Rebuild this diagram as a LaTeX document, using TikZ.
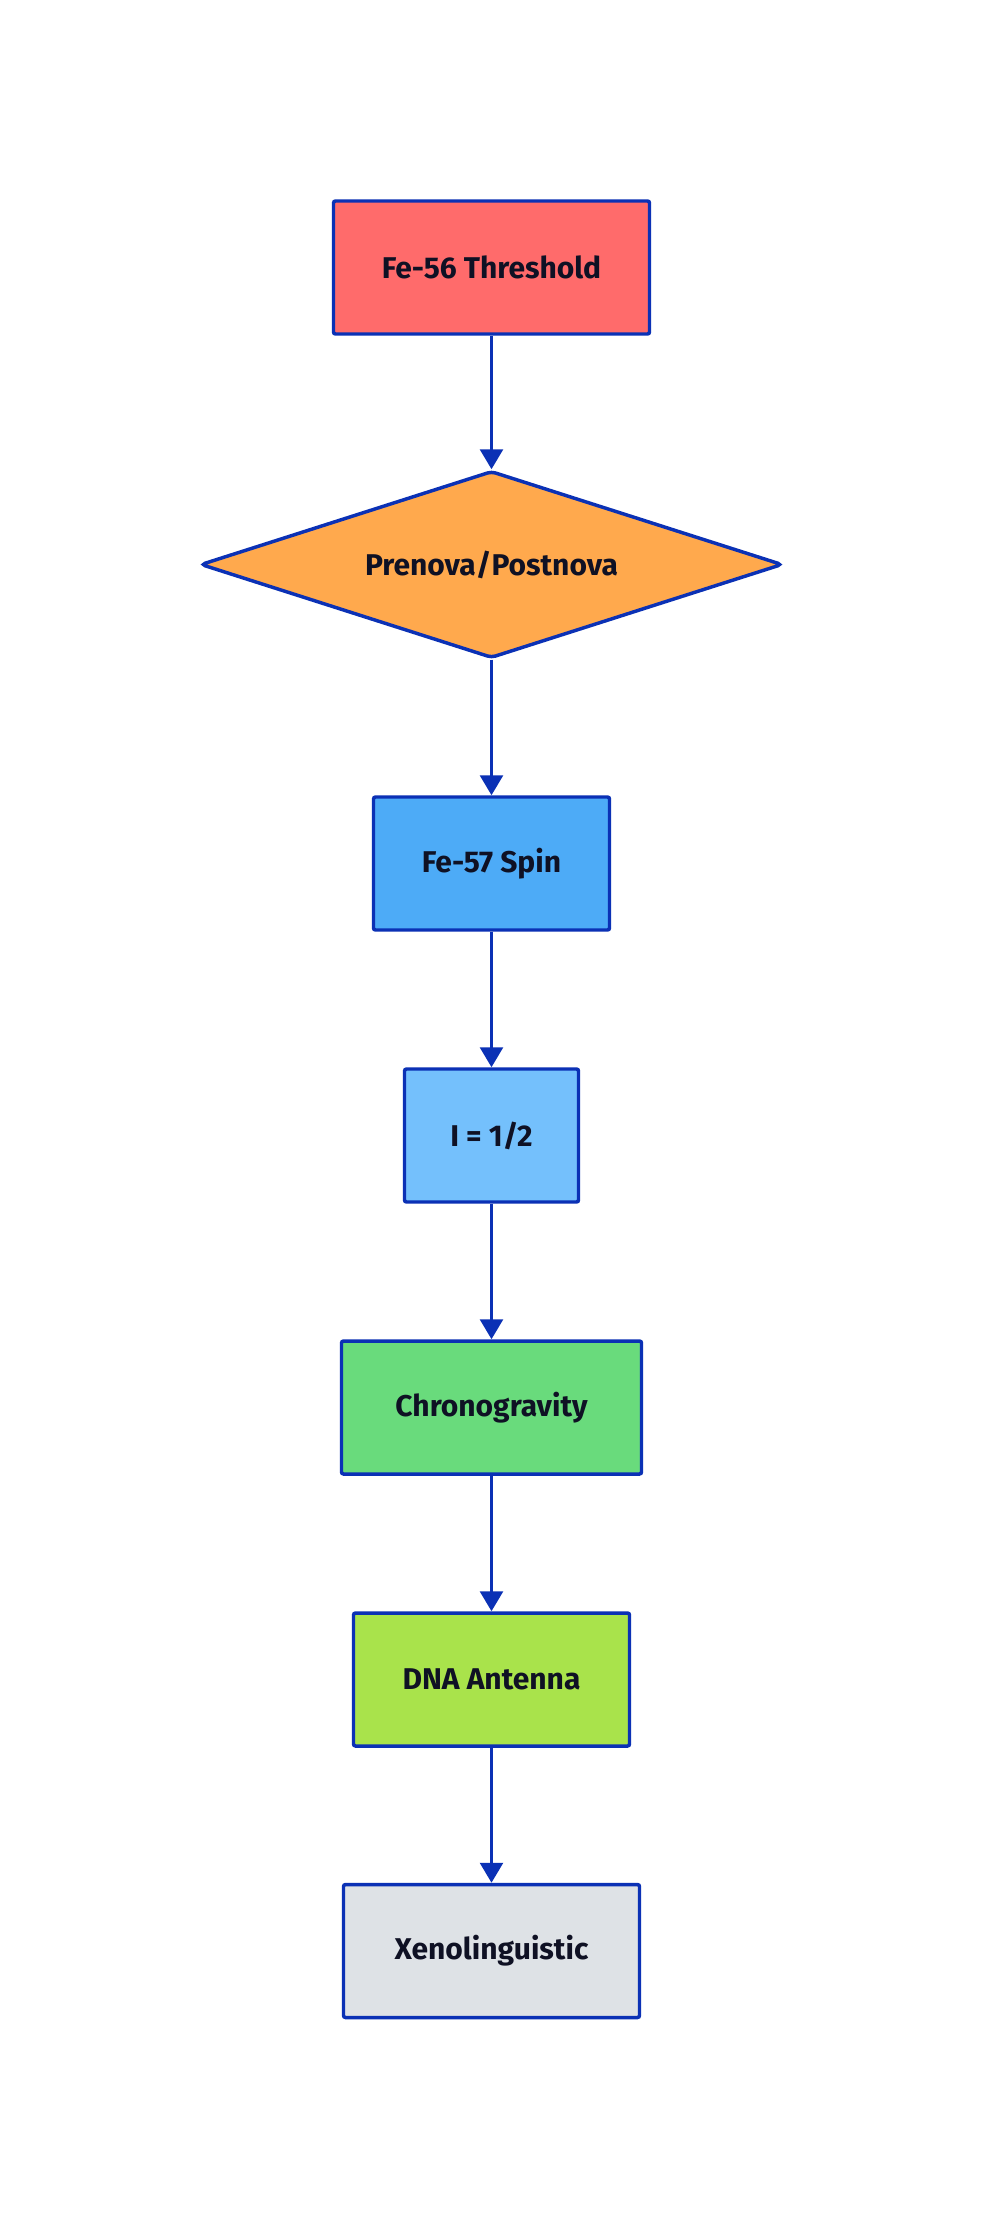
\documentclass[tikz,border=0pt]{standalone}
\usepackage{fontspec}
\setmainfont{Fira Sans}
\usetikzlibrary{shapes.geometric,arrows.meta}
\definecolor{edgeblue}{HTML}{0B31B5}
\definecolor{txt}{HTML}{0F1124}
\definecolor{cred}{HTML}{FF6B6B}
\definecolor{corange}{HTML}{FFA94D}
\definecolor{cblue}{HTML}{4DABF7}
\definecolor{clblue}{HTML}{74C0FC}
\definecolor{cgreen}{HTML}{69DB7C}
\definecolor{clime}{HTML}{A9E34B}
\definecolor{cgray}{HTML}{DEE2E6}
\tikzset{
  lbl/.style={font=\fontsize{22.5}{26}\selectfont\bfseries, text=txt},
  stepbox/.style={lbl, draw=edgeblue, line width=2.6pt, rounded corners=1.5pt, inner sep=0pt,
    minimum height=133*0.75pt},
  decide/.style={lbl, diamond, aspect=3.11, draw=edgeblue, line width=2.6pt, rounded corners=3pt, inner sep=0pt,
    minimum width=582*0.75pt, minimum height=187*0.75pt},
  flow/.style={draw=edgeblue, line width=2.8pt, -{Triangle[length=15pt,width=17pt]}}
}
\begin{document}
\begin{tikzpicture}[x=0.75pt,y=-0.75pt]
\useasboundingbox[fill=white] (0,0) rectangle (984,2220);
\node[stepbox, fill=cred, minimum width=316*0.75pt] (a) at (491.5,267.5) {Fe-56 Threshold};
\node[decide, fill=corange] (b) at (491.5,564.5) {Prenova/Postnova};
\node[stepbox, fill=cblue, minimum width=236*0.75pt] (c) at (491.5,863.5) {Fe-57 Spin};
\node[stepbox, fill=clblue, minimum width=174*0.75pt] (d) at (491.5,1135.5) {I = 1/2};
\node[stepbox, fill=cgreen, minimum width=300*0.75pt] (e) at (491.5,1407.5) {Chronogravity};
\node[stepbox, fill=clime, minimum width=276*0.75pt] (f) at (491.5,1679.5) {DNA Antenna};
\node[stepbox, fill=cgray, minimum width=296*0.75pt] (g) at (491.5,1951) {Xenolinguistic};
\draw[flow] (a) -- (b);
\draw[flow] (b) -- (c);
\draw[flow] (c) -- (d);
\draw[flow] (d) -- (e);
\draw[flow] (e) -- (f);
\draw[flow] (f) -- (g);
\end{tikzpicture}
\end{document}
